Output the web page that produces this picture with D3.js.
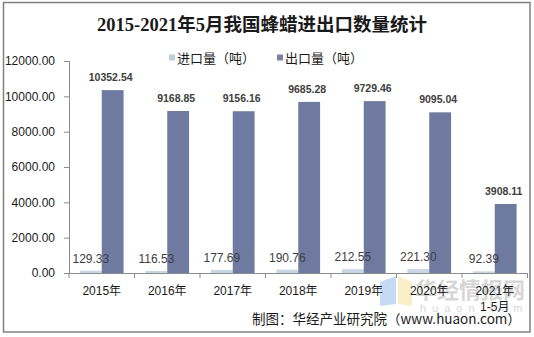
<!DOCTYPE html>
<html>
<head>
<meta charset="utf-8">
<script src="https://cdn.jsdelivr.net/npm/d3@7"></script>
<style>
  html, body { margin: 0; padding: 0; background: #fff; }
  svg { display: block; }
  text { font-family: "Liberation Sans", Arial, "Noto Sans CJK SC", sans-serif; }
</style>
</head>
<body>
<svg id="chart" width="534" height="337"></svg>
<script>
// Beeswax import/export volume, 2015 – May 2021 (tonnes)
const categories = ["2015年", "2016年", "2017年", "2018年", "2019年", "2020年", "2021年\n1-5月"];
const importTons = [129.33, 116.53, 177.69, 190.76, 212.55, 221.30, 92.39];
const exportTons = [10352.54, 9168.85, 9156.16, 9685.28, 9729.46, 9095.04, 3908.11];
const seriesNames = ["进口量（吨）", "出口量（吨）"];
const yTicks = [0, 2000, 4000, 6000, 8000, 10000, 12000];

const colors = { import: "#c9d7e3", export: "#6f7aa0" };
const legendColors = { import: "#bfcdd9", export: "#7a81a0" };

const svg = d3.select("#chart");

// outer frame
svg.append("rect")
  .attr("x", 3.5).attr("y", 2.5)
  .attr("width", 526.5).attr("height", 329.5)
  .attr("fill", "#fff").attr("stroke", "#808080").attr("stroke-width", 1.5);

// title
svg.append("text")
  .attr("x", 262).attr("y", 31)
  .attr("text-anchor", "middle")
  .style("font-family", "'Liberation Serif', 'Noto Sans CJK SC', serif")
  .style("font-size", "18.5px").style("font-weight", "bold")
  .attr("fill", "#1a1a1a")
  .text("2015-2021年5月我国蜂蜡进出口数量统计");

const x = d3.scaleBand().domain(categories).range([69, 527.5]).paddingInner(0).paddingOuter(0);
const xs = d3.scaleBand().domain(["import", "export"]).range([0, x.bandwidth()]).paddingInner(0).paddingOuter(0.5);
const y = d3.scaleLinear().domain([0, 12000]).range([273, 61]);

// y axis
const yAxis = svg.append("g").attr("transform", "translate(69,0)")
  .call(d3.axisLeft(y).tickValues(yTicks).tickFormat(d3.format(".2f")).tickSize(5).tickPadding(9));
yAxis.select(".domain").attr("stroke", "#8c8c8c");
yAxis.selectAll(".tick line").attr("stroke", "#8c8c8c");
yAxis.selectAll(".tick text").style("font-size", "12px").attr("fill", "#1a1a1a")
  .style("font-family", "'Liberation Sans', Arial, sans-serif");

// bars
const rows = categories.map((c, i) => ({ cat: c, import: importTons[i], export: exportTons[i] }));
const groups = svg.append("g").selectAll("g").data(rows).join("g")
  .attr("transform", d => `translate(${x(d.cat)},0)`);

["import", "export"].forEach(key => {
  groups.append("rect")
    .attr("x", xs(key)).attr("width", xs.bandwidth())
    .attr("y", d => y(d[key])).attr("height", d => y(0) - y(d[key]))
    .attr("fill", colors[key]);
});

// watermark (drawn beneath the labels)
const wm = svg.append("g").attr("opacity", 0.4);
wm.append("path").attr("d", "M380,282 L396,276 L396,304 L380,306 Z").attr("fill", "#6fa8e8");
wm.append("path").attr("d", "M398,276 L412,282 L412,306 L398,304 Z").attr("fill", "#f5d77a");
wm.append("text").attr("x", 415).attr("y", 298)
  .style("font-family", "'Noto Sans CJK SC', sans-serif")
  .style("font-size", "22px").style("font-weight", "bold").attr("fill", "#9a9a9a")
  .text("华经情报网");
wm.append("text").attr("x", 420).attr("y", 312)
  .style("font-size", "11px").attr("fill", "#a0a0a0").attr("letter-spacing", "6px")
  .text("huaon.com");

// value labels
groups.append("text")
  .attr("x", xs("import") + xs.bandwidth() / 2)
  .attr("y", d => y(d.import) - 8)
  .attr("text-anchor", "middle")
  .style("font-size", "12px").attr("fill", "#404040")
  .text(d => d.import.toFixed(2));

groups.append("text")
  .attr("x", xs("export") + xs.bandwidth() / 2 - 2)
  .attr("y", d => y(d.export) - 9)
  .attr("text-anchor", "middle")
  .style("font-size", "10.5px").style("font-weight", "bold").attr("fill", "#404040")
  .text(d => d.export.toFixed(2));

// x axis
const xAxisG = svg.append("g");
xAxisG.append("line")
  .attr("x1", x.range()[0]).attr("x2", x.range()[1])
  .attr("y1", y(0) + 0.5).attr("y2", y(0) + 0.5)
  .attr("stroke", "#8c8c8c");
const bounds = categories.map(c => x(c)).concat([x.range()[1]]);
xAxisG.selectAll("line.tk").data(bounds).join("line").attr("class", "tk")
  .attr("x1", d => d).attr("x2", d => d)
  .attr("y1", y(0)).attr("y2", y(0) + 5)
  .attr("stroke", "#8c8c8c");
const xl = xAxisG.selectAll("text.xl").data(categories).join("text").attr("class", "xl")
  .attr("x", d => x(d) + x.bandwidth() / 2)
  .attr("y", 295)
  .attr("text-anchor", "middle")
  .style("font-size", "12px").attr("fill", "#1a1a1a");
xl.each(function (d) {
  const t = d3.select(this);
  d.split("\n").forEach((ln, i) => {
    t.append("tspan").attr("x", x(d) + x.bandwidth() / 2).attr("dy", i === 0 ? 0 : 16).text(ln);
  });
});

// legend
const legend = svg.append("g").attr("transform", "translate(0,58)");
const legendItems = [
  { key: "import", name: seriesNames[0], x: 169 },
  { key: "export", name: seriesNames[1], x: 277 }
];
legendItems.forEach(it => {
  legend.append("rect").attr("x", it.x).attr("y", -3.5).attr("width", 6).attr("height", 6)
    .attr("fill", legendColors[it.key]);
  legend.append("text").attr("x", it.x + 8).attr("y", 5)
    .style("font-size", "13px").attr("fill", "#1a1a1a")
    .style("font-family", "'Noto Sans CJK SC', sans-serif")
    .text(it.name);
});

// source note
svg.append("text")
  .attr("x", 252).attr("y", 324)
  .style("font-size", "13.5px").attr("fill", "#1a1a1a")
  .style("font-family", "'Noto Sans CJK SC', 'Liberation Sans', sans-serif")
  .text("制图：华经产业研究院（www.huaon.com）");
</script>
</body>
</html>
